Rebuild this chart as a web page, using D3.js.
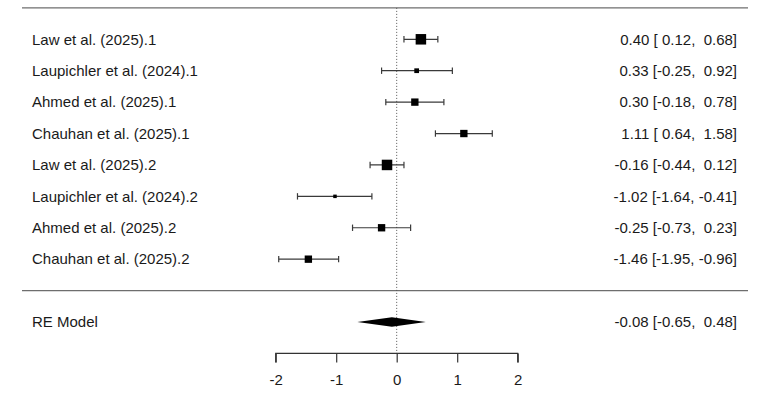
<!DOCTYPE html>
<html lang="en">
<head>
    <meta charset="UTF-8">
    <title>Forest Plot</title>
    <script src="https://d3js.org/d3.v7.min.js"></script>
    <style>
        body {
            margin: 0;
            background: #fff;
            font-family: "Liberation Sans", Arial, sans-serif;
        }
        svg text {
            white-space: pre;
        }
    </style>
</head>
<body>
    <div id="chart"></div>

    <script>
        // study labels, effect estimates and confidence limits
        const studies = [
            "Law et al. (2025).1",
            "Laupichler et al. (2024).1",
            "Ahmed et al. (2025).1",
            "Chauhan et al. (2025).1",
            "Law et al. (2025).2",
            "Laupichler et al. (2024).2",
            "Ahmed et al. (2025).2",
            "Chauhan et al. (2025).2"
        ];
        const estimates = [0.40, 0.33, 0.30, 1.11, -0.16, -1.02, -0.25, -1.46];
        const lower = [0.12, -0.25, -0.18, 0.64, -0.44, -1.64, -0.73, -1.95];
        const upper = [0.68, 0.92, 0.78, 1.58, 0.12, -0.41, 0.23, -0.96];
        // approximate weights (%) read from square sizes
        const weights = [16.0, 9.4, 12.4, 12.4, 16.0, 8.0, 12.4, 12.4];

        const modelLabel = "RE Model";
        const modelEstimate = -0.08;
        const modelLower = -0.65;
        const modelUpper = 0.48;

        const xTicks = [-2, -1, 0, 1, 2];

        const width = 770;
        const height = 419;

        const svg = d3.select("#chart")
            .append("svg")
            .attr("width", width)
            .attr("height", height);

        // x in effect units, y in metafor-style row numbers
        const x = d3.scaleLinear().domain([-2, 2]).range([275.7, 517.7]);
        const y = d3.scaleLinear().domain([8, -2]).range([39.3, 353.4]);
        const size = d3.scaleLinear().domain(d3.extent(weights)).range([3.5, 10.5]);

        const k = studies.length;
        const rows = studies.map((s, i) => ({
            label: s,
            est: estimates[i],
            lo: lower[i],
            hi: upper[i],
            w: weights[i],
            row: k - i
        }));

        const fmt = v => (v < 0 ? "" : " ") + v.toFixed(2);
        const annot = (e, l, u) => `${e.toFixed(2)} [${fmt(l)}, ${fmt(u)}]`;

        // horizontal rules
        svg.selectAll("line.rule")
            .data([k + 1, 0])
            .enter().append("line")
            .attr("x1", 22)
            .attr("x2", 748)
            .attr("y1", d => y(d))
            .attr("y2", d => y(d))
            .attr("stroke", "#6e6e6e")
            .attr("stroke-width", 1.4);

        // reference line at zero
        svg.append("line")
            .attr("x1", x(0))
            .attr("x2", x(0))
            .attr("y1", y(k + 1))
            .attr("y2", y(-2))
            .attr("stroke", "#555")
            .attr("stroke-width", 1)
            .attr("stroke-dasharray", "1,2");

        const g = svg.append("g");

        // confidence intervals
        g.selectAll("line.ci")
            .data(rows)
            .enter().append("line")
            .attr("x1", d => x(d.lo))
            .attr("x2", d => x(d.hi))
            .attr("y1", d => y(d.row))
            .attr("y2", d => y(d.row))
            .attr("stroke", "#3a3a3a")
            .attr("stroke-width", 1.2);

        // end caps
        g.selectAll("line.cap")
            .data(rows.flatMap(d => [{ v: d.lo, row: d.row }, { v: d.hi, row: d.row }]))
            .enter().append("line")
            .attr("x1", d => x(d.v))
            .attr("x2", d => x(d.v))
            .attr("y1", d => y(d.row) - 3.2)
            .attr("y2", d => y(d.row) + 3.2)
            .attr("stroke", "#3a3a3a")
            .attr("stroke-width", 1.2);

        // weighted squares
        g.selectAll("rect")
            .data(rows)
            .enter().append("rect")
            .attr("x", d => x(d.est) - size(d.w) / 2)
            .attr("y", d => y(d.row) - size(d.w) / 2)
            .attr("width", d => size(d.w))
            .attr("height", d => size(d.w))
            .attr("fill", "#000");

        // summary diamond
        const ym = y(-1);
        svg.append("path")
            .attr("d", `M${x(modelLower)},${ym} L${x(modelEstimate)},${ym - 4.7} L${x(modelUpper)},${ym} L${x(modelEstimate)},${ym + 4.7} Z`)
            .attr("fill", "#000");

        // labels on the left
        svg.selectAll("text.label")
            .data(rows.concat([{ label: modelLabel, row: -1 }]))
            .enter().append("text")
            .attr("x", 32)
            .attr("y", d => y(d.row))
            .attr("dy", "0.35em")
            .attr("font-size", 15)
            .attr("fill", "#1a1a1a")
            .text(d => d.label);

        // annotations on the right
        svg.selectAll("text.annot")
            .data(rows.map(d => annot(d.est, d.lo, d.hi)).map((t, i) => ({ t, row: k - i }))
                .concat([{ t: annot(modelEstimate, modelLower, modelUpper), row: -1 }]))
            .enter().append("text")
            .attr("x", 737)
            .attr("y", d => y(d.row))
            .attr("dy", "0.35em")
            .attr("text-anchor", "end")
            .attr("font-size", 15)
            .attr("fill", "#1a1a1a")
            .text(d => d.t);

        // x axis
        const axis = svg.append("g")
            .attr("transform", `translate(0,${y(-2)})`)
            .call(d3.axisBottom(x).tickValues(xTicks).tickFormat(d3.format("d")).tickSize(9).tickPadding(12));
        axis.select(".domain")
            .attr("d", `M${x(-2)},9V0H${x(2)}V9`)
            .attr("stroke", "#333")
            .attr("stroke-width", 1.2);
        axis.selectAll(".tick line").attr("stroke", "#333").attr("stroke-width", 1.2);
        axis.selectAll(".tick text")
            .attr("font-size", 15)
            .attr("font-family", "'Liberation Sans', Arial, sans-serif")
            .attr("fill", "#1a1a1a")
            .text(d => d < 0 ? "-" + Math.abs(d) : d);
    </script>
</body>
</html>
